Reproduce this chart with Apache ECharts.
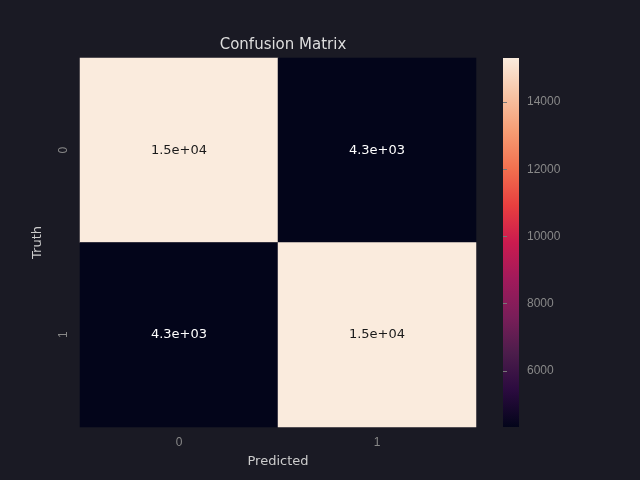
<!DOCTYPE html>
<html><head><meta charset="utf-8">
<script src="https://cdn.jsdelivr.net/npm/echarts@6/dist/echarts.min.js"></script>
<style>html,body{margin:0;background:#1a1a24}#main{width:640px;height:480px}</style>
</head><body><div id="main"></div>
<script>
var xLabels = ['0', '1'];
var yLabels = ['0', '1'];
// [x, y, value]
var cells = [[0, 0, 15313], [1, 0, 4328], [0, 1, 4328], [1, 1, 15313]];
var barTicks = [6000, 8000, 10000, 12000, 14000];
var vMin = 4328, vMax = 15313;
var rocket = ['#03051A', '#2B0B3F', '#4C1D4B', '#7A1E59', '#A11A5B', '#CB1B4F', '#E83F3F', '#F2704F', '#F69C73', '#F7C4A5', '#FAEBDD'];

function fmt(v) {
    return v.toExponential(1).replace(/e([+-])(\d)$/, 'e$10$2');
}

var myChart = echarts.init(document.getElementById('main'));
var option = {
    backgroundColor: '#1a1a24',
    animation: false,
    title: { text: 'Confusion Matrix', left: 278, top: 33, textAlign: 'center',
        textStyle: { color: '#dddddd', fontSize: 15, fontWeight: 'normal', fontFamily: 'DejaVu Sans' } },
    grid: [
        { left: 80, right: 164, top: 58, bottom: 53 },
        { left: 503, width: 16, top: 58, height: 369 }
    ],
    graphic: [{
        type: 'rect', left: 503, top: 58, silent: true,
        shape: { width: 16, height: 369 },
        style: { fill: new echarts.graphic.LinearGradient(0, 1, 0, 0, rocket.map(function (c, i) {
            return { offset: i / (rocket.length - 1), color: c };
        })) }
    }],
    xAxis: [
        { type: 'category', data: xLabels, gridIndex: 0, name: 'Predicted', nameLocation: 'middle', nameGap: 28,
          nameTextStyle: { color: '#cccccc', fontSize: 13, fontFamily: 'DejaVu Sans' },
          axisLine: { show: false }, axisTick: { alignWithLabel: true, lineStyle: { color: '#777' } },
          axisLabel: { color: '#888', fontSize: 12, margin: 10 }, splitLine: { show: false } },
        { type: 'value', gridIndex: 1, show: false }
    ],
    yAxis: [
        { type: 'category', data: yLabels, gridIndex: 0, inverse: true, name: 'Truth', nameLocation: 'middle', nameGap: 36,
          nameTextStyle: { color: '#cccccc', fontSize: 13, fontFamily: 'DejaVu Sans' },
          axisLine: { show: false }, axisTick: { alignWithLabel: true, lineStyle: { color: '#777' } },
          axisLabel: { color: '#888', fontSize: 12, rotate: 90, margin: 10 }, splitLine: { show: false } },
        { type: 'value', gridIndex: 1, position: 'right', min: vMin, max: vMax,
          axisLine: { show: false }, splitLine: { show: false },
          axisTick: { show: true, length: 4, customValues: barTicks, lineStyle: { color: '#777' } },
          axisLabel: { color: '#888', fontSize: 12, margin: 8, customValues: barTicks,
              formatter: function (v) { return String(v); } } }
    ],
    visualMap: {
        type: 'continuous', min: vMin, max: vMax, seriesIndex: 0, show: false,
        inRange: { color: rocket }
    },
    series: [{
        type: 'heatmap', xAxisIndex: 0, yAxisIndex: 0,
        data: cells.map(function (c) {
            return { value: c, label: { color: c[2] > (vMin + vMax) / 2 ? '#1a1a1a' : '#ffffff' } };
        }),
        label: { show: true, fontSize: 13, fontFamily: 'DejaVu Sans',
            formatter: function (p) { return fmt(p.value[2]); } }
    }]
};
myChart.setOption(option);
</script></body></html>
